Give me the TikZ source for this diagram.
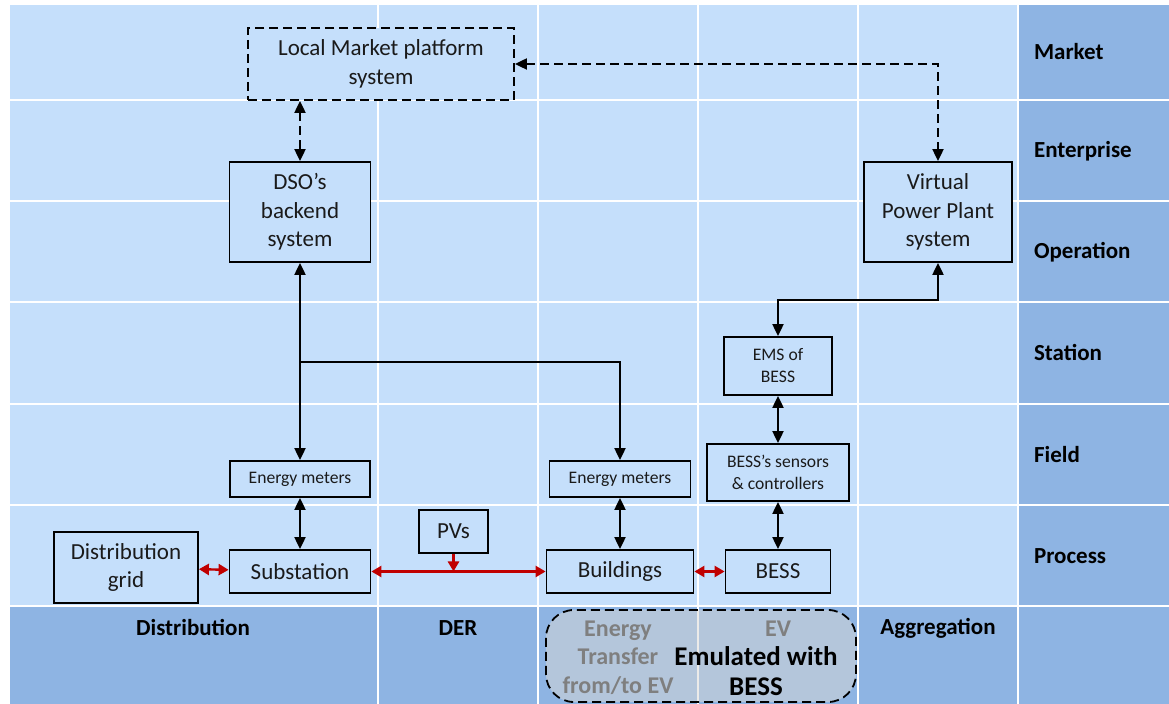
\documentclass[tikz,border=0pt]{standalone}
\usepackage{fontspec}
\setmainfont{Carlito}
\usetikzlibrary{arrows.meta}
\definecolor{cellc}{HTML}{C5DFFB}
\definecolor{bandc}{HTML}{8EB4E3}
\definecolor{evc}{RGB}{218,216,213}
\definecolor{flowc}{HTML}{C00000}
\definecolor{inkc}{HTML}{1A1A1A}
\definecolor{greyc}{HTML}{7F7F7F}
\tikzset{
  box/.style={
    rectangle, draw=black, line width=0.9pt, fill=cellc,
    align=center, inner sep=2pt, text=inkc,
    font=\fontsize{11.5}{14.2}\selectfont
  },
  smallbox/.style={box, font=\fontsize{8.8}{11}\selectfont},
  dbox/.style={box, dash pattern=on 4.5pt off 2.5pt},
  lane/.style={font=\bfseries\fontsize{11.5}{14}\selectfont, text=black},
  layer/.style={lane, anchor=west},
  evtxt/.style={font=\bfseries\fontsize{12}{14.25}\selectfont, text=greyc, align=center},
  sep/.style={draw=white, line width=1pt},
  darr/.style={{Triangle[length=6pt,width=5.5pt]}-{Triangle[length=6pt,width=5.5pt]}, line width=1pt},
  arr/.style={-{Triangle[length=6pt,width=5.5pt]}, line width=1pt},
  dash2/.style={dash pattern=on 4.5pt off 2.5pt},
  pwr/.style={{Triangle[length=5pt,width=5.5pt]}-{Triangle[length=5pt,width=5.5pt]}, line width=1.2pt, draw=flowc},
  pwrin/.style={-{Triangle[length=5pt,width=5.5pt]}, line width=1.2pt, draw=flowc},
}

\begin{document}
\begin{tikzpicture}[x=0.5pt, y=-0.5pt]

  \useasboundingbox (0,0) rectangle (1169,704);

  % lanes and layers
  \fill[cellc] (10,5) rectangle (1018,606);
  \fill[bandc] (1018,5) rectangle (1169,704);
  \fill[bandc] (10,606) rectangle (1018,704);
  \foreach \y in {100,201,302,404,505,606}
    \draw[sep] (10,\y) -- (1169,\y);
  \foreach \x in {378,538,698,858,1018}
    \draw[sep] (\x,5) -- (\x,704);

  \node[layer] (market) at (1027,52) {Market};
  \node[layer] (enterprise) at (1027,151) {Enterprise};
  \node[layer] (operation) at (1027,252) {Operation};
  \node[layer] (station) at (1027,353) {Station};
  \node[layer] (field) at (1027,455) {Field};
  \node[layer] (process) at (1027,556) {Process};

  \node[lane] (distlane) at (193,628) {Distribution};
  \node[lane] (derlane) at (458,628) {DER};
  \node[lane] (agglane) at (938,628) {Aggregation};

  % EV lane emulated with the battery
  \draw[line width=0.9pt, dash2, rounded corners=14pt, fill=evc, fill opacity=0.5]
    (546,610) rectangle (856,702);
  \node[evtxt] (etlane) at (618,657.5) {Energy\\Transfer\\from/to EV};
  \node[evtxt] (evlane) at (778,629) {EV};
  \node[font=\bfseries\fontsize{13.5}{15}\selectfont, text=black, align=center]
    (emul) at (756,671) {Emulated with\\BESS};

  % systems
  \node[dbox, minimum width=133pt, minimum height=36pt] (lm) at (381,64)
    {Local Market platform\\system};
  \node[box, minimum width=70.5pt, minimum height=50pt] (dso) at (300,212)
    {DSO’s\\backend\\system};
  \node[box, minimum width=74pt, minimum height=50pt] (vpp) at (938,212)
    {Virtual\\Power Plant\\system};
  \node[smallbox, minimum width=54pt, minimum height=29pt] (ems) at (778,366)
    {EMS of\\BESS};
  \node[smallbox, minimum width=71pt, minimum height=28.5pt] (sens) at (778,472.5)
    {BESS’s sensors\\\& controllers};
  \node[smallbox, minimum width=70pt, minimum height=18pt] (meter1) at (300,479)
    {Energy meters};
  \node[smallbox, minimum width=70.5pt, minimum height=18pt] (meter2) at (620,479)
    {Energy meters};
  \node[box, minimum width=72pt, minimum height=35.5pt] (grid) at (126,567.5)
    {Distribution\\grid};
  \node[box, minimum width=70.5pt, minimum height=21.5pt] (sub) at (300,571.5)
    {Substation};
  \node[box, minimum width=34.5pt, minimum height=21.5pt] (pv) at (453.5,531.5)
    {PVs};
  \node[box, minimum width=73.5pt, minimum height=21.5pt] (bld) at (620,571.5)
    {Buildings};
  \node[box, minimum width=52.5pt, minimum height=21.5pt] (bess) at (778,571.5)
    {BESS};

  \coordinate (split) at (300,362);
  \coordinate (vppbend) at (938,300);

  % information flows
  \draw[darr, dash2] (lm.south -| dso) -- (dso.north);
  \draw[darr, dash2] (lm.east) -| (vpp.north);
  \draw[darr] (dso) -- (meter1);
  \draw[arr] (split) -| (meter2.north);
  \draw[darr] (meter1) -- (sub);
  \draw[darr] (meter2) -- (bld);
  \draw[darr] (vpp.south) -- (vppbend) -| (ems.north);
  \draw[darr] (ems) -- (sens);
  \draw[darr] (sens) -- (bess);

  % power flows
  \draw[pwr] (grid) -- (sub);
  \draw[pwr] (sub) -- (bld);
  \draw[pwrin] (pv) -- (pv |- sub);
  \draw[pwr] (bld) -- (bess);

\end{tikzpicture}
\end{document}
